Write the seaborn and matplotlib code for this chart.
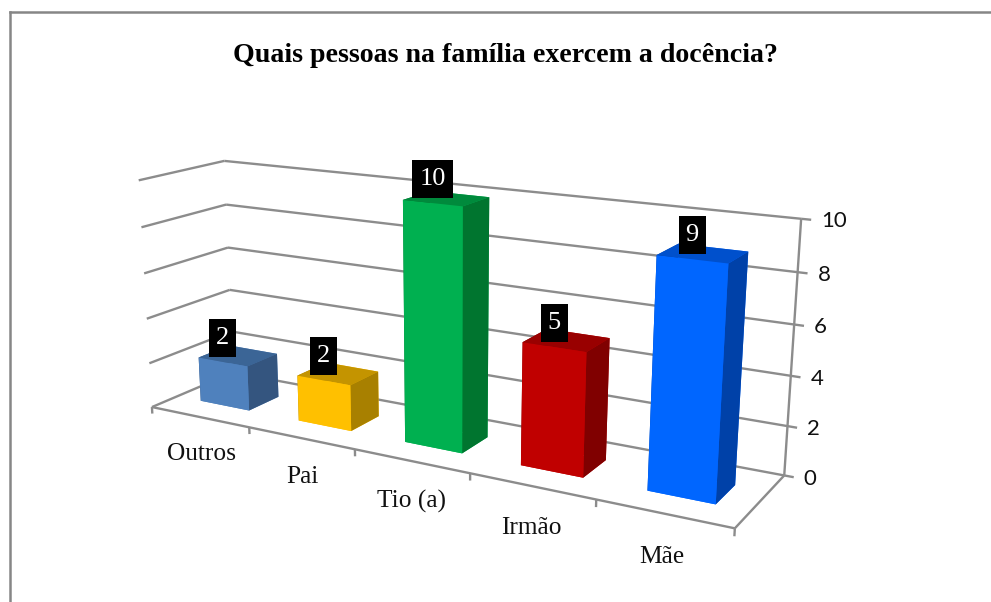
import matplotlib
matplotlib.use("Agg")
import matplotlib.pyplot as plt
from matplotlib.path import Path
from mpl_toolkits.mplot3d import proj3d
import seaborn as sns

# Chart data
categories = ["Outros", "Pai", "Tio (a)", "Irmão", "Mãe"]
values = [2, 2, 10, 5, 9]
value_ticks = [0, 2, 4, 6, 8, 10]
title = "Quais pessoas na família exercem a docência?"

# Bar faces
front_colors = ["#4F81BD", "#FFC000", "#00B050", "#C00000", "#0066FF"]
side_colors = ["#34557F", "#A88000", "#00752F", "#800000", "#0041A8"]
top_colors = ["#3B6596", "#C49400", "#008A3C", "#990000", "#0050CC"]

GRID = "#8C8C8C"
BAR_WIDTH = 0.5032
BAR_Y0, BAR_Y1 = 0.3004, 0.6742


def label_box(x0, y0, width, height, size):
    # black data label, always the same height whatever the digit
    pad = 0.26 * size
    half = 0.72 * size
    cy = y0 + height / 2
    l, r = x0 - pad, x0 + width + pad
    verts = [(l, cy - half), (r, cy - half), (r, cy + half), (l, cy + half), (l, cy - half)]
    return Path(verts, closed=True)


def place_axes(fig, ax, scale, origin_x, origin_y):
    # size the square 3D axes so that one projected unit takes `scale` pixels
    fig_w, fig_h = fig.bbox.width, fig.bbox.height
    ax.set_position([0, 0, 1, 1])
    ax.apply_aspect()
    box = ax.bbox
    p0 = ax.transData.transform((0, 0))
    p1 = ax.transData.transform((1, 0))
    side = box.height * scale / (p1[0] - p0[0])
    fx = (p0[0] - box.x0) / box.height
    fy = (p0[1] - box.y0) / box.height
    left = origin_x - fx * side
    bottom = fig_h - origin_y - fy * side
    ax.set_position([left / fig_w, bottom / fig_h, side / fig_w, side / fig_h])


def text_at(ax, x, y, z, s, lift=0, **kwargs):
    # plain 2D text on the projected position of a 3D point, lift is in pixels
    px, py, _ = proj3d.proj_transform(x, y, z, ax.get_proj())
    return ax.annotate(s, (px, py), xycoords="data", xytext=(0, lift),
                       textcoords="offset pixels", annotation_clip=False, **kwargs)


def main():
    sns.set_theme(style="white")
    plt.rcParams["font.family"] = ["Liberation Serif", "DejaVu Serif"]

    fig = plt.figure(figsize=(9.91, 6.02), dpi=100)

    # Outer chart frame, only top and left are visible in the crop
    frame = fig.add_axes([9.5 / 991, 0, 1 - 9.5 / 991, 1 - 12 / 602])
    frame.set_xticks([])
    frame.set_yticks([])
    sns.despine(ax=frame, top=False, left=False, right=True, bottom=True)
    for side in ["left", "top"]:
        frame.spines[side].set_color("#868686")
        frame.spines[side].set_linewidth(1.8)

    ax = fig.add_subplot(projection="3d", computed_zorder=False)
    ax.set_xlim(0, len(categories))
    ax.set_ylim(0, 1)
    ax.set_zlim(0, 10)
    ax.set_xticks([])
    ax.set_yticks([])
    ax.set_zticks([])
    ax.view_init(15.5908, -60.3119, 0.0413)
    ax.set_proj_type("persp", focal_length=0.3849)
    ax.set_box_aspect((4.6037, 1, 1.7435))
    ax.set_axis_off()
    ax.patch.set_alpha(0)
    place_axes(fig, ax, 3777.3, 447.3, 321.4)

    n = len(categories)
    line_style = dict(color=GRID, lw=1.7, zorder=1, solid_capstyle="butt", clip_on=False)

    # Walls and floor
    for t in value_ticks:
        ax.plot([0, 0], [0, 1], [t, t], **line_style)
        ax.plot([0, n], [1, 1], [t, t], **line_style)
        ax.plot([n, n + 0.07], [1, 1], [t, t], **line_style)
        text_at(ax, n + 0.14, 1, t, str(t), family="Lato", fontsize=16,
                color="#111111", ha="left", va="center")
    ax.plot([n, n], [1, 1], [0, 10], **line_style)
    ax.plot([0, n], [0, 0], [0, 0], **line_style)
    ax.plot([n, n], [0, 1], [0, 0], **line_style)
    for i in range(n + 1):
        ax.plot([i, i], [0, 0], [0, -0.3], **line_style)

    # Bars
    for i, v in enumerate(values):
        faces = [front_colors[i], top_colors[i], front_colors[i],
                 front_colors[i], side_colors[i], side_colors[i]]
        bar = ax.bar3d(i + 0.5 - BAR_WIDTH / 2, BAR_Y0, 0, BAR_WIDTH, BAR_Y1 - BAR_Y0, v,
                       color=faces, shade=False, zorder=2 + i * 0.1, linewidth=0)
        bar.set_clip_on(False)
        text_at(ax, i + 0.5, BAR_Y0, v, str(v), lift=24, fontsize=19, color="white",
                ha="center", va="center", zorder=5,
                bbox=dict(boxstyle=label_box, fc="black", ec="none"))
        text_at(ax, i + 0.5, 0, -1.7, categories[i], fontsize=18.3, color="#111111",
                ha="center", va="center", zorder=5)

    fig.text(505 / 991, 1 - 56 / 602, title, fontsize=20.1, fontweight="bold",
             color="black", ha="center", va="center")

    fig.savefig("out.png", dpi=100)


if __name__ == "__main__":
    main()
